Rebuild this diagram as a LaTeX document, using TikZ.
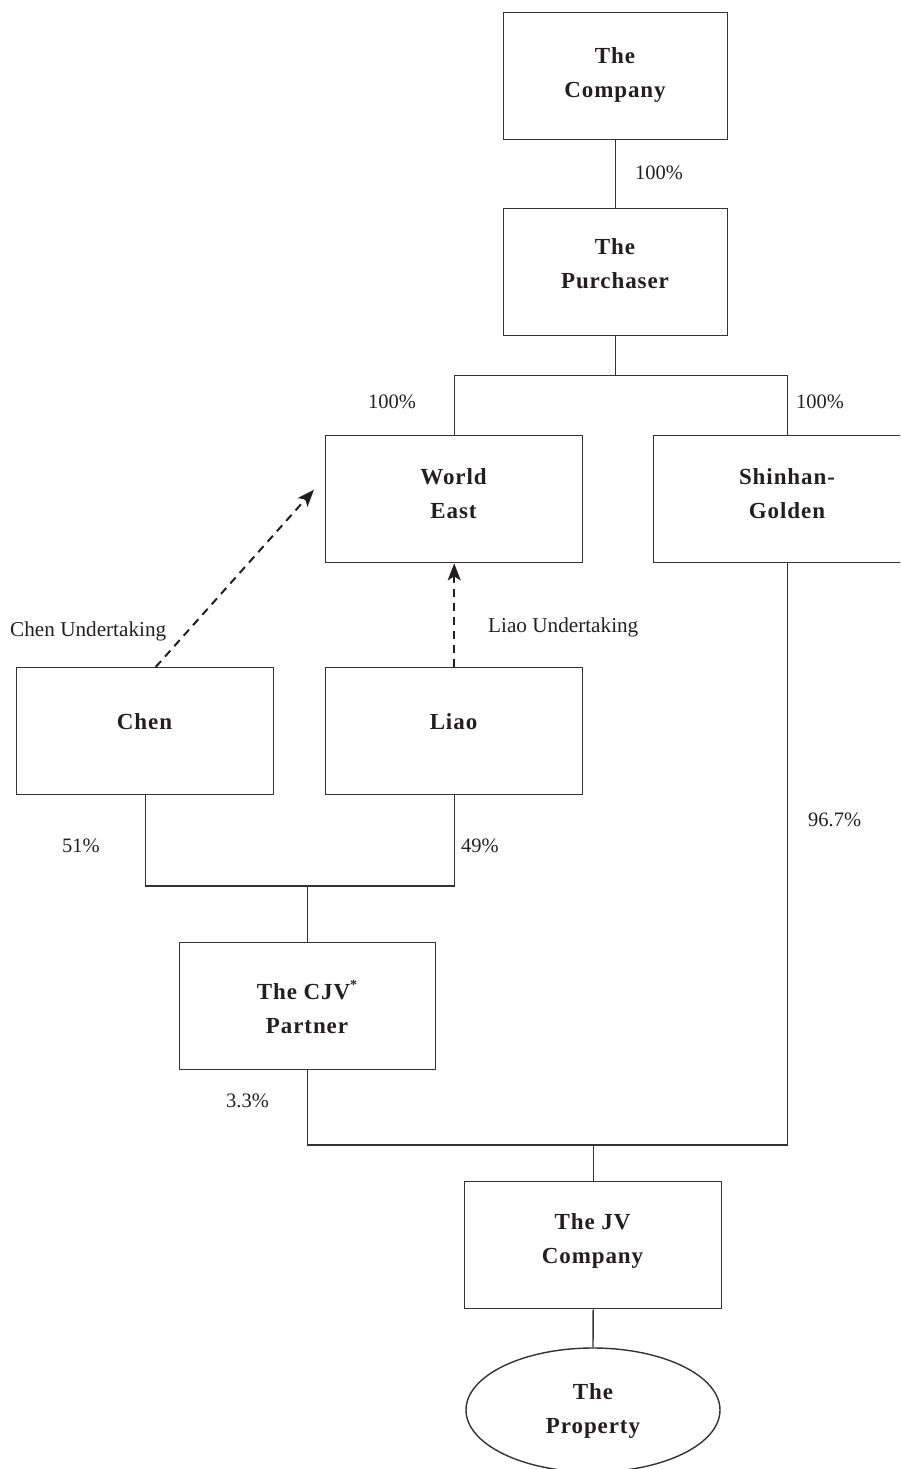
\documentclass[tikz,border=0pt]{standalone}
\usepackage{fontspec}
\setmainfont{Liberation Serif}
\newfontfamily\boxfont{Liberation Serif}[LetterSpace=4]
\usetikzlibrary{arrows.meta,shapes.geometric}
\definecolor{ink}{HTML}{231F20}
\definecolor{rule}{HTML}{333333}
\begin{document}
\begin{tikzpicture}[x=1pt,y=-1pt,
  box/.style={draw=rule,line width=1.4pt,rectangle,inner sep=0pt,anchor=north west,minimum height=127pt},
  oval/.style={draw=rule,line width=1.4pt,ellipse,inner sep=0pt,minimum width=254pt,minimum height=124pt},
  boxlabel/.style={anchor=north,inner sep=0pt,align=center,text=ink,font=\boxfont\bfseries\fontsize{23}{34}\selectfont},
  pct/.style={anchor=base west,inner sep=0pt,text=ink,font=\fontsize{20.5}{24}\selectfont},
  undlabel/.style={anchor=base west,inner sep=0pt,text=ink,font=\fontsize{21.2}{26}\selectfont},
  link/.style={draw=rule,line width=1.4pt},
  undertaking/.style={draw=ink,line width=2pt,dash pattern=on 8pt off 6pt,-{Stealth[length=17pt,width=13pt,inset=4pt]}}
]
\useasboundingbox (0,0) rectangle (900,1469);
\clip (0,0) rectangle (900,1469);

% boxes
\node[box,minimum width=224pt] (company) at (503,12) {};
\node[box,minimum width=224pt] (purchaser) at (503,208) {};
\node[box,minimum width=257pt] (worldeast) at (325,435) {};
\node[box,minimum width=268pt] (shinhan) at (653,435) {};
\node[box,minimum width=257pt] (chen) at (16,667) {};
\node[box,minimum width=257pt] (liao) at (325,667) {};
\node[box,minimum width=256pt] (cjv) at (179,942) {};
\node[box,minimum width=257pt] (jv) at (464,1181) {};
\node[oval] (property) at (593,1410) {};

% box texts
\node[boxlabel] (companyt) at (615,47) {The\\Company};
\node[boxlabel] (purchasert) at (615,238) {The\\Purchaser};
\node[boxlabel] (worldeastt) at (453.5,468) {World\\East};
\node[boxlabel] (shinhant) at (787,468) {Shinhan-\\Golden};
\node[boxlabel] (chent) at (144.5,713) {Chen};
\node[boxlabel] (liaot) at (453.5,713) {Liao};
\node[boxlabel] (cjvt) at (307,980) {The CJV\raisebox{0.45em}{\fontsize{14}{14}\selectfont *}\\Partner};
\node[boxlabel] (jvt) at (592.5,1213) {The JV\\Company};
\node[boxlabel] (propertyt) at (593,1383) {The\\Property};

% connectors
\draw[link] (company.south) -- (purchaser.north);
\path (purchaser.south) ++(0,39) coordinate (pbar);
\draw[link] (purchaser.south) -- (pbar);
\draw[link] (worldeast.north) |- (pbar) -| (shinhan.north);

\path (cjv.north) ++(0,-56) coordinate (cbar);
\draw[link] (chen.south) |- (cbar) -| (liao.south);
\draw[link] (cbar) -- (cjv.north);

\path (jv.north) ++(0,-36) coordinate (jbar);
\draw[link] (cjv.south) |- (jbar) -| (shinhan.south);
\draw[link] (jbar) -- (jv.north);
\draw[link] (jv.south) -- (property.north);

% undertakings
\path (chen.north) ++(10.5,0) coordinate (cs);
\path (worldeast.west) ++(-11,-9.5) coordinate (ce);
\draw[undertaking] (cs) -- (ce);
\draw[undertaking] (liao.north) -- (worldeast.south);

% labels
\node[pct] (p1) at (635,179) {100\%};
\node[pct] (p2) at (368,408) {100\%};
\node[pct] (p3) at (796,408) {100\%};
\node[undlabel] (u1) at (10,636) {Chen Undertaking};
\node[undlabel] (u2) at (488,632) {Liao Undertaking};
\node[pct] (p4) at (62,852) {51\%};
\node[pct] (p5) at (461,852) {49\%};
\node[pct] (p6) at (808,826) {96.7\%};
\node[pct] (p7) at (226,1107) {3.3\%};
\end{tikzpicture}
\end{document}
